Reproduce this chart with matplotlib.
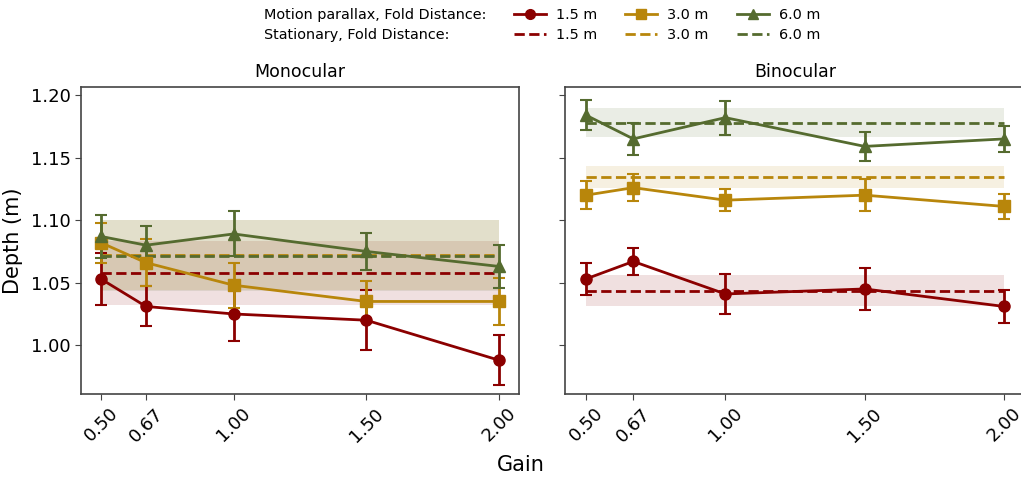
import matplotlib
matplotlib.use("Agg")
import matplotlib.pyplot as plt
from matplotlib.lines import Line2D

# Gain conditions
gains = [0.5, 0.67, 1.0, 1.5, 2.0]
gain_labels = ["0.50", "0.67", "1.00", "1.50", "2.00"]
fold_labels = ["1.5 m", "3.0 m", "6.0 m"]
colors = ["#8b0000", "#b8860b", "#556b2f"]
markers = ["o", "s", "^"]

# Monocular, motion parallax: mean depth and error per fold distance
mono_mp_15 = [1.053, 1.031, 1.025, 1.020, 0.988]
mono_mp_30 = [1.082, 1.066, 1.048, 1.035, 1.035]
mono_mp_60 = [1.087, 1.080, 1.089, 1.075, 1.063]
mono_err_15 = [0.021, 0.016, 0.022, 0.024, 0.020]
mono_err_30 = [0.016, 0.019, 0.018, 0.016, 0.019]
mono_err_60 = [0.017, 0.015, 0.018, 0.015, 0.017]

# Monocular, stationary: mean and band half-width
mono_st_mean = [1.0575, 1.0725, 1.0715]
mono_st_band = [0.0255, 0.028, 0.0285]

# Binocular, motion parallax
bino_mp_15 = [1.053, 1.067, 1.041, 1.045, 1.031]
bino_mp_30 = [1.120, 1.126, 1.116, 1.120, 1.111]
bino_mp_60 = [1.184, 1.165, 1.182, 1.159, 1.165]
bino_err_15 = [0.013, 0.0105, 0.016, 0.0165, 0.013]
bino_err_30 = [0.011, 0.011, 0.009, 0.013, 0.010]
bino_err_60 = [0.012, 0.013, 0.0135, 0.0115, 0.0105]

# Binocular, stationary
bino_st_mean = [1.0435, 1.1345, 1.178]
bino_st_band = [0.0125, 0.0087, 0.0117]

panels = [
    ("Monocular", [mono_mp_15, mono_mp_30, mono_mp_60],
     [mono_err_15, mono_err_30, mono_err_60], mono_st_mean, mono_st_band),
    ("Binocular", [bino_mp_15, bino_mp_30, bino_mp_60],
     [bino_err_15, bino_err_30, bino_err_60], bino_st_mean, bino_st_band),
]

W, H = 1021, 478
fig = plt.figure(figsize=(W / 100, H / 100), dpi=100)
ax_left = fig.add_axes([81 / W, 1 - 394 / H, 438 / W, 307 / H])
ax_right = fig.add_axes([565 / W, 1 - 394 / H, 460 / W, 307 / H], sharey=ax_left)
axes = [ax_left, ax_right]

spine_color = "#444444"
for ax, (title, mp, err, st_mean, st_band) in zip(axes, panels):
    for i in range(3):
        lo = [st_mean[i] - st_band[i]] * len(gains)
        hi = [st_mean[i] + st_band[i]] * len(gains)
        ax.fill_between(gains, lo, hi, color=colors[i], alpha=0.12,
                        linewidth=0, zorder=1)
        ax.plot(gains, [st_mean[i]] * len(gains), linestyle="--",
                color=colors[i], linewidth=2, zorder=2)
        ax.errorbar(gains, mp[i], yerr=err[i], color=colors[i],
                    marker=markers[i], markersize=8, linewidth=2,
                    elinewidth=2, capsize=4, capthick=1.5, zorder=3)
    ax.set_title(title, fontsize=12.5, pad=7)
    ax.set_xticks(gains)
    ax.set_xticklabels(gain_labels, rotation=45, fontsize=13)
    ax.tick_params(axis="both", labelsize=13, color=spine_color, length=4)
    for s in ax.spines.values():
        s.set_color(spine_color)
        s.set_linewidth(1.2)

ax_left.set_ylim(0.961, 1.2065)
ax_left.set_yticks([1.00, 1.05, 1.10, 1.15, 1.20])
ax_left.set_yticklabels(["1.00", "1.05", "1.10", "1.15", "1.20"])
ax_left.set_ylabel("Depth (m)", fontsize=15)
ax_left.yaxis.set_label_coords(-0.132, 0.5)
ax_right.tick_params(axis="y", labelleft=False)

fig.text(521 / W, 1 - 465 / H, "Gain", fontsize=15, ha="center", va="center")

# Legend: motion parallax (solid) and stationary (dashed) per fold distance
handles = []
labels = []
for i in range(3):
    handles.append(Line2D([], [], color=colors[i], marker=markers[i],
                          markersize=7, linewidth=2))
    labels.append(fold_labels[i])
    handles.append(Line2D([], [], color=colors[i], linestyle="--", linewidth=2))
    labels.append(fold_labels[i])
fig.legend(handles, labels, ncol=3, loc="center", frameon=False, fontsize=10.4,
           bbox_to_anchor=(667 / W, 1 - 25 / H), labelspacing=0.4,
           handlelength=2.2, handletextpad=0.7, columnspacing=1.95)
fig.text(264 / W, 1 - 15 / H, "Motion parallax, Fold Distance:",
         fontsize=10.4, ha="left", va="center")
fig.text(264 / W, 1 - 35 / H, "Stationary, Fold Distance:",
         fontsize=10.4, ha="left", va="center")

fig.savefig("out.png", dpi=100)
